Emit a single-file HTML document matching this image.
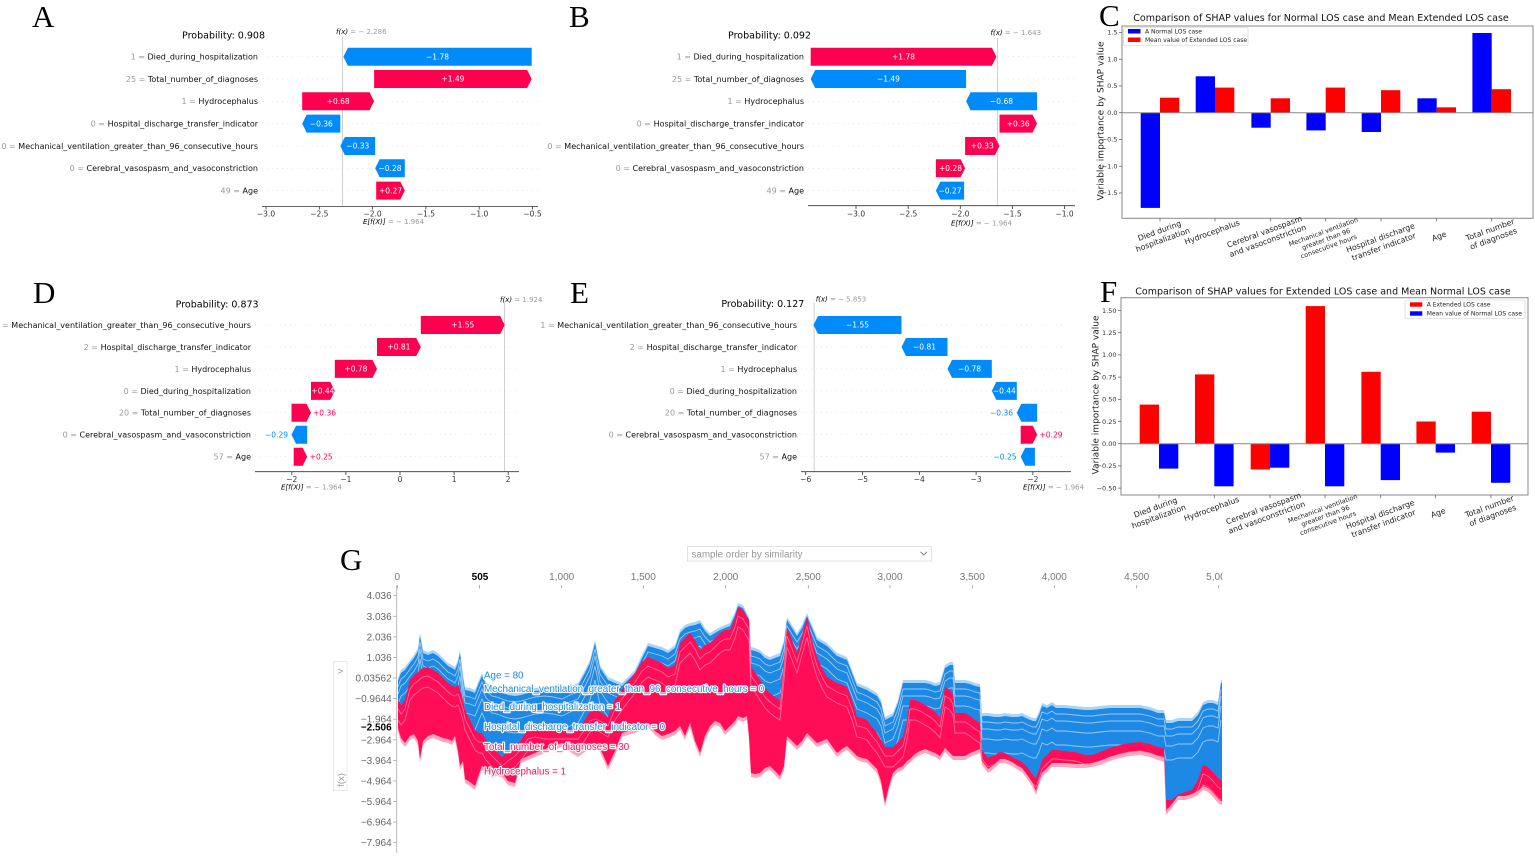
<!DOCTYPE html>
<html><head><meta charset="utf-8">
<style>html,body{margin:0;padding:0;background:#fff;}svg{display:block}</style>
</head><body>
<svg width="1535" height="860" viewBox="0 0 1535 860" xmlns="http://www.w3.org/2000/svg" xmlns:xlink="http://www.w3.org/1999/xlink">
<rect width="1535" height="860" fill="#fff"/>

<!-- panel letters -->
<g font-family="Liberation Serif, serif" font-size="31" fill="#000">
<text x="32" y="27">A</text>
<text x="569" y="27">B</text>
<text x="1099" y="26">C</text>
<text x="33" y="303">D</text>
<text x="570" y="303">E</text>
<text x="1100" y="302">F</text>
<text x="340" y="570">G</text>
</g>

<g font-family="DejaVu Sans, sans-serif">
<!-- ================= PANEL A ================= -->
<text x="265" y="38.5" font-size="9.5" text-anchor="end">Probability: 0.908</text>
<g stroke="#d8d8d8" stroke-width="0.5" stroke-dasharray="1 4">
<line x1="262" y1="56.7" x2="538" y2="56.7"/><line x1="262" y1="79" x2="538" y2="79"/><line x1="262" y1="101.3" x2="538" y2="101.3"/><line x1="262" y1="123.6" x2="538" y2="123.6"/><line x1="262" y1="146" x2="538" y2="146"/><line x1="262" y1="168.3" x2="538" y2="168.3"/><line x1="262" y1="190.6" x2="538" y2="190.6"/>
</g>
<line x1="342.5" y1="37" x2="342.5" y2="205.7" stroke="#bbb" stroke-width="0.7"/>
<g font-size="8" text-anchor="end" fill="#111">
<text x="258" y="59.6"><tspan fill="#999">1 = </tspan>Died_during_hospitalization</text>
<text x="258" y="81.9"><tspan fill="#999">25 = </tspan>Total_number_of_diagnoses</text>
<text x="258" y="104.2"><tspan fill="#999">1 = </tspan>Hydrocephalus</text>
<text x="258" y="126.5"><tspan fill="#999">0 = </tspan>Hospital_discharge_transfer_indicator</text>
<text x="258" y="148.9"><tspan fill="#999">0 = </tspan>Mechanical_ventilation_greater_than_96_consecutive_hours</text>
<text x="258" y="171.2"><tspan fill="#999">0 = </tspan>Cerebral_vasospasm_and_vasoconstriction</text>
<text x="258" y="193.5"><tspan fill="#999">49 = </tspan>Age</text>
</g>
<polygon fill="#008bfb" points="531.7,47.7 347.9,47.7 343.4,56.7 347.9,65.7 531.7,65.7"/>
<polygon fill="#ff0051" points="374.1,70 527.2,70 531.7,79 527.2,88 374.1,88"/>
<polygon fill="#ff0051" points="302.2,92.3 369.6,92.3 374.1,101.3 369.6,110.3 302.2,110.3"/>
<polygon fill="#008bfb" points="340.3,114.6 306.7,114.6 302.2,123.6 306.7,132.6 340.3,132.6"/>
<polygon fill="#008bfb" points="375.2,137 344.8,137 340.3,146 344.8,155 375.2,155"/>
<polygon fill="#008bfb" points="404.8,159.3 379.7,159.3 375.2,168.3 379.7,177.3 404.8,177.3"/>
<polygon fill="#ff0051" points="376.2,181.6 400.3,181.6 404.8,190.6 400.3,199.6 376.2,199.6"/>
<g font-size="7.5" fill="#fff" text-anchor="middle">
<text x="437.5" y="59.4">−1.78</text><text x="452.9" y="81.7">+1.49</text><text x="338.2" y="104">+0.68</text><text x="321.3" y="126.3">−0.36</text><text x="357.8" y="148.7">−0.33</text><text x="390" y="171">−0.28</text><text x="390.5" y="193.3">+0.27</text>
</g>
<line x1="262" y1="206.5" x2="538" y2="206.5" stroke="#333" stroke-width="0.8"/>
<g stroke="#333" stroke-width="0.8"><line x1="266" y1="206.5" x2="266" y2="209.5"/><line x1="319.3" y1="206.5" x2="319.3" y2="209.5"/><line x1="372.6" y1="206.5" x2="372.6" y2="209.5"/><line x1="425.9" y1="206.5" x2="425.9" y2="209.5"/><line x1="479.2" y1="206.5" x2="479.2" y2="209.5"/><line x1="532.5" y1="206.5" x2="532.5" y2="209.5"/></g>
<g font-size="7.5" text-anchor="middle" fill="#333"><text x="266" y="216.5">−3.0</text><text x="319.3" y="216.5">−2.5</text><text x="372.6" y="216.5">−2.0</text><text x="425.9" y="216.5">−1.5</text><text x="479.2" y="216.5">−1.0</text><text x="532.5" y="216.5">−0.5</text></g>
<text x="336" y="34" font-size="7"><tspan font-style="italic">f(x)</tspan><tspan fill="#999"> = − 2.286</tspan></text>
<text x="363" y="224" font-size="7"><tspan font-style="italic">E[f(X)]</tspan><tspan fill="#999"> = − 1.964</tspan></text>

<!-- ================= PANEL B ================= -->
<text x="811" y="38.5" font-size="9.5" text-anchor="end">Probability: 0.092</text>
<g stroke="#d8d8d8" stroke-width="0.5" stroke-dasharray="1 4">
<line x1="808" y1="56.7" x2="1075" y2="56.7"/><line x1="808" y1="79" x2="1075" y2="79"/><line x1="808" y1="101.3" x2="1075" y2="101.3"/><line x1="808" y1="123.6" x2="1075" y2="123.6"/><line x1="808" y1="146" x2="1075" y2="146"/><line x1="808" y1="168.3" x2="1075" y2="168.3"/><line x1="808" y1="190.6" x2="1075" y2="190.6"/>
</g>
<line x1="997.5" y1="38" x2="997.5" y2="205.7" stroke="#bbb" stroke-width="0.7"/>
<g font-size="8" text-anchor="end" fill="#111">
<text x="804" y="59.6"><tspan fill="#999">1 = </tspan>Died_during_hospitalization</text>
<text x="804" y="81.9"><tspan fill="#999">25 = </tspan>Total_number_of_diagnoses</text>
<text x="804" y="104.2"><tspan fill="#999">1 = </tspan>Hydrocephalus</text>
<text x="804" y="126.5"><tspan fill="#999">0 = </tspan>Hospital_discharge_transfer_indicator</text>
<text x="804" y="148.9"><tspan fill="#999">0 = </tspan>Mechanical_ventilation_greater_than_96_consecutive_hours</text>
<text x="804" y="171.2"><tspan fill="#999">0 = </tspan>Cerebral_vasospasm_and_vasoconstriction</text>
<text x="804" y="193.5"><tspan fill="#999">49 = </tspan>Age</text>
</g>
<polygon fill="#ff0051" points="810.7,47.7 991.9,47.7 996.4,56.7 991.9,65.7 810.7,65.7"/>
<polygon fill="#008bfb" points="966.1,70 815.2,70 810.7,79 815.2,88 966.1,88"/>
<polygon fill="#008bfb" points="1037,92.3 970.6,92.3 966.1,101.3 970.6,110.3 1037,110.3"/>
<polygon fill="#ff0051" points="999.5,114.6 1032.5,114.6 1037,123.6 1032.5,132.6 999.5,132.6"/>
<polygon fill="#ff0051" points="965.1,137 995,137 999.5,146 995,155 965.1,155"/>
<polygon fill="#ff0051" points="935.9,159.3 960.6,159.3 965.1,168.3 960.6,177.3 935.9,177.3"/>
<polygon fill="#008bfb" points="964.1,181.6 940.4,181.6 935.9,190.6 940.4,199.6 964.1,199.6"/>
<g font-size="7.5" fill="#fff" text-anchor="middle">
<text x="903.5" y="59.4">+1.78</text><text x="888.4" y="81.7">−1.49</text><text x="1001.5" y="104">−0.68</text><text x="1018.2" y="126.3">+0.36</text><text x="982.3" y="148.7">+0.33</text><text x="950.5" y="171">+0.28</text><text x="950" y="193.3">−0.27</text>
</g>
<line x1="808" y1="205.7" x2="1075" y2="205.7" stroke="#333" stroke-width="0.8"/>
<g stroke="#333" stroke-width="0.8"><line x1="856" y1="205.7" x2="856" y2="209"/><line x1="908.2" y1="205.7" x2="908.2" y2="209"/><line x1="960.3" y1="205.7" x2="960.3" y2="209"/><line x1="1012.5" y1="205.7" x2="1012.5" y2="209"/><line x1="1064.6" y1="205.7" x2="1064.6" y2="209"/></g>
<g font-size="7.5" text-anchor="middle" fill="#333"><text x="856" y="216.5">−3.0</text><text x="908.2" y="216.5">−2.5</text><text x="960.3" y="216.5">−2.0</text><text x="1012.5" y="216.5">−1.5</text><text x="1064.6" y="216.5">−1.0</text></g>
<text x="990.5" y="35" font-size="7"><tspan font-style="italic">f(x)</tspan><tspan fill="#999"> = − 1.643</tspan></text>
<text x="951" y="225.5" font-size="7"><tspan font-style="italic">E[f(X)]</tspan><tspan fill="#999"> = − 1.964</tspan></text>

<!-- ================= PANEL D ================= -->
<text x="258.6" y="307.5" font-size="9.5" text-anchor="end">Probability: 0.873</text>
<g stroke="#d8d8d8" stroke-width="0.5" stroke-dasharray="1 4">
<line x1="255" y1="325" x2="519" y2="325"/><line x1="255" y1="347" x2="519" y2="347"/><line x1="255" y1="368.9" x2="519" y2="368.9"/><line x1="255" y1="390.9" x2="519" y2="390.9"/><line x1="255" y1="412.8" x2="519" y2="412.8"/><line x1="255" y1="434.8" x2="519" y2="434.8"/><line x1="255" y1="456.7" x2="519" y2="456.7"/>
</g>
<line x1="504.5" y1="303" x2="504.5" y2="471.7" stroke="#bbb" stroke-width="0.7"/>
<g font-size="8" text-anchor="end" fill="#111">
<text x="251" y="327.9"><tspan fill="#999">1 = </tspan>Mechanical_ventilation_greater_than_96_consecutive_hours</text>
<text x="251" y="349.9"><tspan fill="#999">2 = </tspan>Hospital_discharge_transfer_indicator</text>
<text x="251" y="371.8"><tspan fill="#999">1 = </tspan>Hydrocephalus</text>
<text x="251" y="393.8"><tspan fill="#999">0 = </tspan>Died_during_hospitalization</text>
<text x="251" y="415.7"><tspan fill="#999">20 = </tspan>Total_number_of_diagnoses</text>
<text x="251" y="437.7"><tspan fill="#999">0 = </tspan>Cerebral_vasospasm_and_vasoconstriction</text>
<text x="251" y="459.6"><tspan fill="#999">57 = </tspan>Age</text>
</g>
<polygon fill="#ff0051" points="420.8,316 500.2,316 504.7,325 500.2,334 420.8,334"/>
<polygon fill="#ff0051" points="377,338 416.3,338 420.8,347 416.3,356 377,356"/>
<polygon fill="#ff0051" points="334.8,359.9 372.5,359.9 377,368.9 372.5,377.9 334.8,377.9"/>
<polygon fill="#ff0051" points="311,381.9 330.3,381.9 334.8,390.9 330.3,399.9 311,399.9"/>
<polygon fill="#ff0051" points="291.5,403.8 306.5,403.8 311,412.8 306.5,421.8 291.5,421.8"/>
<polygon fill="#008bfb" points="307.2,425.8 296,425.8 291.5,434.8 296,443.8 307.2,443.8"/>
<polygon fill="#ff0051" points="293.7,447.7 302.7,447.7 307.2,456.7 302.7,465.7 293.7,465.7"/>
<g font-size="7.5" fill="#fff" text-anchor="middle">
<text x="462.8" y="327.7">+1.55</text><text x="398.9" y="349.7">+0.81</text><text x="355.9" y="371.6">+0.78</text><text x="322.9" y="393.6">+0.44</text>
</g>
<text x="313" y="415.5" font-size="7.5" fill="#ff0051">+0.36</text>
<text x="288" y="437.5" font-size="7.5" fill="#008bfb" text-anchor="end">−0.29</text>
<text x="309.7" y="459.4" font-size="7.5" fill="#ff0051">+0.25</text>
<line x1="255" y1="471.7" x2="519" y2="471.7" stroke="#333" stroke-width="0.8"/>
<g stroke="#333" stroke-width="0.8"><line x1="291.8" y1="471.7" x2="291.8" y2="475"/><line x1="345.9" y1="471.7" x2="345.9" y2="475"/><line x1="400" y1="471.7" x2="400" y2="475"/><line x1="454.1" y1="471.7" x2="454.1" y2="475"/><line x1="508.2" y1="471.7" x2="508.2" y2="475"/></g>
<g font-size="7.5" text-anchor="middle" fill="#333"><text x="291.8" y="482">−2</text><text x="345.9" y="482">−1</text><text x="400" y="482">0</text><text x="454.1" y="482">1</text><text x="508.2" y="482">2</text></g>
<text x="500" y="302" font-size="7"><tspan font-style="italic">f(x)</tspan><tspan fill="#999"> = 1.924</tspan></text>
<text x="281" y="489.5" font-size="7"><tspan font-style="italic">E[f(X)]</tspan><tspan fill="#999"> = − 1.964</tspan></text>

<!-- ================= PANEL E ================= -->
<text x="804.3" y="306.8" font-size="9.5" text-anchor="end">Probability: 0.127</text>
<g stroke="#d8d8d8" stroke-width="0.5" stroke-dasharray="1 4">
<line x1="801" y1="325" x2="1071" y2="325"/><line x1="801" y1="347" x2="1071" y2="347"/><line x1="801" y1="368.9" x2="1071" y2="368.9"/><line x1="801" y1="390.9" x2="1071" y2="390.9"/><line x1="801" y1="412.8" x2="1071" y2="412.8"/><line x1="801" y1="434.8" x2="1071" y2="434.8"/><line x1="801" y1="456.7" x2="1071" y2="456.7"/>
</g>
<line x1="814.1" y1="303" x2="814.1" y2="471.7" stroke="#bbb" stroke-width="0.7"/>
<g font-size="8" text-anchor="end" fill="#111">
<text x="797" y="327.9"><tspan fill="#999">1 = </tspan>Mechanical_ventilation_greater_than_96_consecutive_hours</text>
<text x="797" y="349.9"><tspan fill="#999">2 = </tspan>Hospital_discharge_transfer_indicator</text>
<text x="797" y="371.8"><tspan fill="#999">1 = </tspan>Hydrocephalus</text>
<text x="797" y="393.8"><tspan fill="#999">0 = </tspan>Died_during_hospitalization</text>
<text x="797" y="415.7"><tspan fill="#999">20 = </tspan>Total_number_of_diagnoses</text>
<text x="797" y="437.7"><tspan fill="#999">0 = </tspan>Cerebral_vasospasm_and_vasoconstriction</text>
<text x="797" y="459.6"><tspan fill="#999">57 = </tspan>Age</text>
</g>
<polygon fill="#008bfb" points="901.5,316 818,316 813.5,325 818,334 901.5,334"/>
<polygon fill="#008bfb" points="947.5,338 906,338 901.5,347 906,356 947.5,356"/>
<polygon fill="#008bfb" points="991.8,359.9 952,359.9 947.5,368.9 952,377.9 991.8,377.9"/>
<polygon fill="#008bfb" points="1016.8,381.9 996.3,381.9 991.8,390.9 996.3,399.9 1016.8,399.9"/>
<polygon fill="#008bfb" points="1037.2,403.8 1021.3,403.8 1016.8,412.8 1021.3,421.8 1037.2,421.8"/>
<polygon fill="#ff0051" points="1020.7,425.8 1032.7,425.8 1037.2,434.8 1032.7,443.8 1020.7,443.8"/>
<polygon fill="#008bfb" points="1034.9,447.7 1025.2,447.7 1020.7,456.7 1025.2,465.7 1034.9,465.7"/>
<g font-size="7.5" fill="#fff" text-anchor="middle">
<text x="857.5" y="327.7">−1.55</text><text x="924.5" y="349.7">−0.81</text><text x="969.6" y="371.6">−0.78</text><text x="1004.3" y="393.6">−0.44</text>
</g>
<text x="1013" y="415.5" font-size="7.5" fill="#008bfb" text-anchor="end">−0.36</text>
<text x="1039.5" y="437.5" font-size="7.5" fill="#ff0051">+0.29</text>
<text x="1016.5" y="459.4" font-size="7.5" fill="#008bfb" text-anchor="end">−0.25</text>
<line x1="801" y1="471.7" x2="1071" y2="471.7" stroke="#333" stroke-width="0.8"/>
<g stroke="#333" stroke-width="0.8"><line x1="805.7" y1="471.7" x2="805.7" y2="475"/><line x1="862.5" y1="471.7" x2="862.5" y2="475"/><line x1="919.3" y1="471.7" x2="919.3" y2="475"/><line x1="976.1" y1="471.7" x2="976.1" y2="475"/><line x1="1032.9" y1="471.7" x2="1032.9" y2="475"/></g>
<g font-size="7.5" text-anchor="middle" fill="#333"><text x="805.7" y="482">−6</text><text x="862.5" y="482">−5</text><text x="919.3" y="482">−4</text><text x="976.1" y="482">−3</text><text x="1032.9" y="482">−2</text></g>
<text x="815.7" y="301.5" font-size="7"><tspan font-style="italic">f(x)</tspan><tspan fill="#999"> = − 5.853</tspan></text>
<text x="1023" y="489.5" font-size="7"><tspan font-style="italic">E[f(X)]</tspan><tspan fill="#999"> = − 1.964</tspan></text>

<!-- ================= PANEL C ================= -->
<text x="1321" y="21" font-size="9.5" text-anchor="middle" fill="#111">Comparison of SHAP values for Normal LOS case and Mean Extended LOS case</text>
<g fill="#0000ff">
<rect x="1140.7" y="112.7" width="19.3" height="95.2"/>
<rect x="1195.7" y="76.3" width="19.3" height="36.4"/>
<rect x="1251.4" y="112.7" width="19.3" height="15"/>
<rect x="1306.4" y="112.7" width="19.3" height="17.7"/>
<rect x="1361.7" y="112.7" width="19.3" height="19.3"/>
<rect x="1417.4" y="98.3" width="19.3" height="14.4"/>
<rect x="1472.4" y="33" width="19.3" height="79.7"/>
</g>
<g fill="#ff0000">
<rect x="1160" y="97.7" width="19.3" height="15"/>
<rect x="1215" y="87.6" width="19.3" height="25.1"/>
<rect x="1270.7" y="98.3" width="19.3" height="14.4"/>
<rect x="1325.7" y="87.6" width="19.3" height="25.1"/>
<rect x="1381" y="90.2" width="19.3" height="22.5"/>
<rect x="1436.7" y="107.35" width="19.3" height="5.35"/>
<rect x="1491.7" y="89.2" width="19.3" height="23.5"/>
</g>
<line x1="1122" y1="112.7" x2="1533" y2="112.7" stroke="#888" stroke-width="1"/>
<rect x="1122" y="26" width="411" height="192.3" fill="none" stroke="#888" stroke-width="1"/>
<g stroke="#555" stroke-width="0.7">
<line x1="1119" y1="32.45" x2="1122" y2="32.45"/><line x1="1119" y1="59.2" x2="1122" y2="59.2"/><line x1="1119" y1="85.95" x2="1122" y2="85.95"/><line x1="1119" y1="112.7" x2="1122" y2="112.7"/><line x1="1119" y1="139.45" x2="1122" y2="139.45"/><line x1="1119" y1="166.2" x2="1122" y2="166.2"/><line x1="1119" y1="192.95" x2="1122" y2="192.95"/>
<line x1="1160" y1="218.3" x2="1160" y2="221.5"/><line x1="1215" y1="218.3" x2="1215" y2="221.5"/><line x1="1270.7" y1="218.3" x2="1270.7" y2="221.5"/><line x1="1325.7" y1="218.3" x2="1325.7" y2="221.5"/><line x1="1381" y1="218.3" x2="1381" y2="221.5"/><line x1="1436.7" y1="218.3" x2="1436.7" y2="221.5"/><line x1="1491.7" y1="218.3" x2="1491.7" y2="221.5"/>
</g>
<g font-size="6.5" text-anchor="end" fill="#333">
<text x="1117.5" y="34.7">1.5</text><text x="1117.5" y="61.5">1.0</text><text x="1117.5" y="88.2">0.5</text><text x="1117.5" y="115">0.0</text><text x="1117.5" y="141.7">−0.5</text><text x="1117.5" y="168.5">−1.0</text><text x="1117.5" y="195.2">−1.5</text>
</g>
<rect x="1123.5" y="27.5" width="124.5" height="18" fill="#fff" fill-opacity="0.85" stroke="#ccc" stroke-width="0.6" rx="1.5"/>
<rect x="1128" y="29" width="12.5" height="4.5" fill="#0000ff"/>
<rect x="1128" y="37.5" width="12.5" height="4.5" fill="#ff0000"/>
<text x="1145" y="33.3" font-size="6" fill="#222">A Normal LOS case</text>
<text x="1145" y="41.8" font-size="6" fill="#222">Mean value of Extended LOS case</text>
<text transform="translate(1103.3,121) rotate(-90)" font-size="9" text-anchor="middle" fill="#222">Variable importance by SHAP value</text>
<g font-size="7.8" text-anchor="middle" fill="#222">
<g transform="translate(1161,235) rotate(-20)"><text y="-1.9">Died during</text><text y="7.7">hospitalization</text></g>
<g transform="translate(1212,232) rotate(-20)"><text y="2.8">Hydrocephalus</text></g>
<g transform="translate(1266,236) rotate(-20)"><text y="-1.9">Cerebral vasospasm</text><text y="7.7">and vasoconstriction</text></g>
<g transform="translate(1326,239) rotate(-20)" font-size="6.5"><text y="-5.45">Mechanical ventilation</text><text y="2.35">greater than 96</text><text y="10.15">consecutive hours</text></g>
<g transform="translate(1382,242) rotate(-20)"><text y="-1.9">Hospital discharge</text><text y="7.7">transfer indicator</text></g>
<g transform="translate(1439,236) rotate(-20)"><text y="2.8">Age</text></g>
<g transform="translate(1491.7,234) rotate(-20)"><text y="-1.9">Total number</text><text y="7.7">of diagnoses</text></g>
</g>

<!-- ================= PANEL F ================= -->
<text x="1323" y="294.5" font-size="9.5" text-anchor="middle" fill="#111">Comparison of SHAP values for Extended LOS case and Mean Normal LOS case</text>
<g fill="#ff0000">
<rect x="1139.7" y="404.6" width="19.3" height="39.1"/>
<rect x="1195" y="374.4" width="19.3" height="69.3"/>
<rect x="1250.7" y="443.7" width="19.3" height="25.8"/>
<rect x="1305.7" y="306.1" width="19.3" height="137.6"/>
<rect x="1361.4" y="371.8" width="19.3" height="71.9"/>
<rect x="1416.4" y="421.5" width="19.3" height="22.2"/>
<rect x="1471.7" y="411.7" width="19.3" height="32"/>
</g>
<g fill="#0000ff">
<rect x="1159" y="443.7" width="19.3" height="24.9"/>
<rect x="1214.3" y="443.7" width="19.3" height="42.6"/>
<rect x="1270" y="443.7" width="19.3" height="24"/>
<rect x="1325" y="443.7" width="19.3" height="42.6"/>
<rect x="1380.7" y="443.7" width="19.3" height="36.4"/>
<rect x="1435.7" y="443.7" width="19.3" height="8.9"/>
<rect x="1491" y="443.7" width="19.3" height="39.1"/>
</g>
<line x1="1121" y1="443.7" x2="1528" y2="443.7" stroke="#888" stroke-width="1"/>
<rect x="1121" y="297.7" width="407" height="197.3" fill="none" stroke="#888" stroke-width="1"/>
<g stroke="#555" stroke-width="0.7">
<line x1="1118" y1="310.5" x2="1121" y2="310.5"/><line x1="1118" y1="332.7" x2="1121" y2="332.7"/><line x1="1118" y1="354.9" x2="1121" y2="354.9"/><line x1="1118" y1="377.1" x2="1121" y2="377.1"/><line x1="1118" y1="399.3" x2="1121" y2="399.3"/><line x1="1118" y1="421.5" x2="1121" y2="421.5"/><line x1="1118" y1="443.7" x2="1121" y2="443.7"/><line x1="1118" y1="465.9" x2="1121" y2="465.9"/><line x1="1118" y1="488.1" x2="1121" y2="488.1"/>
<line x1="1159" y1="495" x2="1159" y2="498.2"/><line x1="1214.3" y1="495" x2="1214.3" y2="498.2"/><line x1="1270" y1="495" x2="1270" y2="498.2"/><line x1="1325" y1="495" x2="1325" y2="498.2"/><line x1="1380.7" y1="495" x2="1380.7" y2="498.2"/><line x1="1435.7" y1="495" x2="1435.7" y2="498.2"/><line x1="1491" y1="495" x2="1491" y2="498.2"/>
</g>
<g font-size="6.5" text-anchor="end" fill="#333">
<text x="1116.5" y="312.8">1.50</text><text x="1116.5" y="335">1.25</text><text x="1116.5" y="357.2">1.00</text><text x="1116.5" y="379.4">0.75</text><text x="1116.5" y="401.6">0.50</text><text x="1116.5" y="423.8">0.25</text><text x="1116.5" y="446">0.00</text><text x="1116.5" y="468.2">−0.25</text><text x="1116.5" y="490.4">−0.50</text>
</g>
<rect x="1405" y="300" width="120" height="18.5" fill="#fff" fill-opacity="0.85" stroke="#ccc" stroke-width="0.6" rx="1.5"/>
<rect x="1410" y="302.3" width="12.3" height="4.4" fill="#ff0000"/>
<rect x="1410" y="311.3" width="12.3" height="4.4" fill="#0000ff"/>
<text x="1426.7" y="306.5" font-size="6" fill="#222">A Extended LOS case</text>
<text x="1426.7" y="315.5" font-size="6" fill="#222">Mean value of Normal LOS case</text>
<text transform="translate(1098.3,395) rotate(-90)" font-size="9" text-anchor="middle" fill="#222">Variable importance by SHAP value</text>
<g font-size="7.8" text-anchor="middle" fill="#222">
<g transform="translate(1157,511.7) rotate(-20)"><text y="-1.9">Died during</text><text y="7.7">hospitalization</text></g>
<g transform="translate(1211.5,508.7) rotate(-20)"><text y="2.8">Hydrocephalus</text></g>
<g transform="translate(1265,512.7) rotate(-20)"><text y="-1.9">Cerebral vasospasm</text><text y="7.7">and vasoconstriction</text></g>
<g transform="translate(1325.3,515.7) rotate(-20)" font-size="6.5"><text y="-5.45">Mechanical ventilation</text><text y="2.35">greater than 96</text><text y="10.15">consecutive hours</text></g>
<g transform="translate(1381.7,518.7) rotate(-20)"><text y="-1.9">Hospital discharge</text><text y="7.7">transfer indicator</text></g>
<g transform="translate(1438,512.7) rotate(-20)"><text y="2.8">Age</text></g>
<g transform="translate(1491,510.7) rotate(-20)"><text y="-1.9">Total number</text><text y="7.7">of diagnoses</text></g>
</g>
</g>

<!-- ================= PANEL G ================= -->
<defs>
<polygon id="gt" points="398,678 401,670 405,667 410,660 414,655 418,648 420,633 423,650 428,652 433,650 438,653 443,658 448,663 452,665 455,667 458,660 460,650 463,675 465,687 470,688 475,690 479,680 482,673 486,682 492,687 497,688 502,690 508,692 515,693 521,692 528,690 535,688 545,687 553,688 562,690 570,686 578,683 585,670 590,660 595,640 600,665 608,677 615,680 622,683 628,677 635,670 642,655 648,643 655,645 662,647 668,650 675,645 680,630 685,625 690,623 695,622 700,620 705,628 710,633 715,630 720,627 725,625 730,623 735,612 738,603 743,605 747,613 749,616 751,647 755,648 760,650 765,655 770,657 775,655 780,653 784,640 787,617 792,625 797,633 802,625 807,613 812,625 817,637 822,640 827,643 832,648 837,653 842,655 847,657 852,670 857,683 862,685 867,687 872,690 877,693 881,700 885,717 889,715 893,713 898,700 903,680 907,680 910,680 915,680 920,680 925,680 930,681 935,683 940,682 945,665 950,662 953,662 955,680 960,680 965,680 970,681 975,683 980,684 982,713 988,713 995,714 1000,714 1005,713 1012,714 1018,714 1022,713 1028,716 1033,718 1036,718 1039,712 1042,703 1047,705 1052,702 1056,705 1065,705 1075,706 1085,707 1092,707 1100,706 1110,705 1120,705 1130,705 1140,705 1150,707 1158,710 1164,710 1166,720 1172,720 1178,718 1185,718 1192,718 1198,712 1203,702 1208,700 1213,700 1218,702 1221,680 1222,680 1222,860 398,860"/>
<polyline id="gtl" points="398,678 401,670 405,667 410,660 414,655 418,648 420,633 423,650 428,652 433,650 438,653 443,658 448,663 452,665 455,667 458,660 460,650 463,675 465,687 470,688 475,690 479,680 482,673 486,682 492,687 497,688 502,690 508,692 515,693 521,692 528,690 535,688 545,687 553,688 562,690 570,686 578,683 585,670 590,660 595,640 600,665 608,677 615,680 622,683 628,677 635,670 642,655 648,643 655,645 662,647 668,650 675,645 680,630 685,625 690,623 695,622 700,620 705,628 710,633 715,630 720,627 725,625 730,623 735,612 738,603 743,605 747,613 749,616 751,647 755,648 760,650 765,655 770,657 775,655 780,653 784,640 787,617 792,625 797,633 802,625 807,613 812,625 817,637 822,640 827,643 832,648 837,653 842,655 847,657 852,670 857,683 862,685 867,687 872,690 877,693 881,700 885,717 889,715 893,713 898,700 903,680 907,680 910,680 915,680 920,680 925,680 930,681 935,683 940,682 945,665 950,662 953,662 955,680 960,680 965,680 970,681 975,683 980,684 982,713 988,713 995,714 1000,714 1005,713 1012,714 1018,714 1022,713 1028,716 1033,718 1036,718 1039,712 1042,703 1047,705 1052,702 1056,705 1065,705 1075,706 1085,707 1092,707 1100,706 1110,705 1120,705 1130,705 1140,705 1150,707 1158,710 1164,710 1166,720 1172,720 1178,718 1185,718 1192,718 1198,712 1203,702 1208,700 1213,700 1218,702 1221,680"/>
<polygon id="gm" points="398,700 401,705 405,700 410,680 414,675 418,672 420,670 423,668 428,667 433,670 438,673 443,678 448,683 452,686 455,687 458,685 460,690 463,700 465,710 470,720 475,730 479,733 482,733 486,740 492,747 497,752 502,757 508,752 515,747 521,740 528,730 535,728 545,730 553,730 562,730 570,730 578,730 585,720 590,712 595,710 600,712 608,717 615,700 622,690 628,682 635,673 642,662 648,657 655,660 662,663 668,668 675,665 680,643 685,638 690,633 695,640 700,650 705,645 710,643 715,638 720,633 725,630 730,630 735,618 738,607 743,610 747,617 749,620 751,667 755,672 760,680 765,688 770,693 775,697 780,700 784,660 787,627 792,640 797,653 802,635 807,617 812,640 817,657 822,668 827,677 832,680 837,683 842,685 847,687 852,700 857,717 862,718 867,720 872,727 877,733 881,740 885,747 889,747 893,747 898,742 903,737 907,720 910,700 915,700 920,702 925,705 930,708 935,712 940,718 945,687 950,690 953,695 955,713 960,713 965,713 970,716 975,720 980,723 982,750 988,758 995,755 1000,752 1005,753 1012,757 1018,760 1022,762 1028,768 1033,775 1036,778 1039,770 1042,760 1047,755 1052,750 1056,750 1065,751 1075,752 1085,755 1092,755 1100,752 1110,748 1120,745 1130,743 1140,742 1150,744 1158,747 1164,748 1166,800 1172,800 1178,795 1185,792 1192,790 1198,780 1203,765 1208,767 1213,772 1218,778 1221,780 1222,780 1222,860 398,860"/>
<polyline id="gml" points="398,700 401,705 405,700 410,680 414,675 418,672 420,670 423,668 428,667 433,670 438,673 443,678 448,683 452,686 455,687 458,685 460,690 463,700 465,710 470,720 475,730 479,733 482,733 486,740 492,747 497,752 502,757 508,752 515,747 521,740 528,730 535,728 545,730 553,730 562,730 570,730 578,730 585,720 590,712 595,710 600,712 608,717 615,700 622,690 628,682 635,673 642,662 648,657 655,660 662,663 668,668 675,665 680,643 685,638 690,633 695,640 700,650 705,645 710,643 715,638 720,633 725,630 730,630 735,618 738,607 743,610 747,617 749,620 751,667 755,672 760,680 765,688 770,693 775,697 780,700 784,660 787,627 792,640 797,653 802,635 807,617 812,640 817,657 822,668 827,677 832,680 837,683 842,685 847,687 852,700 857,717 862,718 867,720 872,727 877,733 881,740 885,747 889,747 893,747 898,742 903,737 907,720 910,700 915,700 920,702 925,705 930,708 935,712 940,718 945,687 950,690 953,695 955,713 960,713 965,713 970,716 975,720 980,723 982,750 988,758 995,755 1000,752 1005,753 1012,757 1018,760 1022,762 1028,768 1033,775 1036,778 1039,770 1042,760 1047,755 1052,750 1056,750 1065,751 1075,752 1085,755 1092,755 1100,752 1110,748 1120,745 1130,743 1140,742 1150,744 1158,747 1164,748 1166,800 1172,800 1178,795 1185,792 1192,790 1198,780 1203,765 1208,767 1213,772 1218,778 1221,780"/>
<polygon id="gb" points="398,732 401,742 405,747 410,740 414,738 418,745 420,763 423,745 428,740 433,738 438,740 443,742 448,743 452,745 455,740 458,755 460,770 463,765 465,783 470,786 475,790 479,778 482,770 486,772 492,777 497,776 502,777 508,785 515,787 521,763 528,760 535,757 545,753 553,750 562,747 570,752 578,757 585,752 590,748 595,747 600,752 608,770 615,755 622,737 628,735 635,733 642,730 648,727 655,735 662,740 668,738 675,735 680,730 685,740 690,727 695,745 700,757 705,740 710,730 715,725 720,727 725,735 730,730 735,725 738,720 743,722 747,720 749,740 751,777 755,778 760,777 765,772 770,770 775,775 780,780 784,770 787,740 792,745 797,750 802,745 807,737 812,742 817,747 822,745 827,743 832,750 837,757 842,753 847,750 852,755 857,760 862,762 867,763 872,768 877,773 881,785 885,807 889,790 893,777 898,772 903,770 907,765 910,763 915,758 920,755 925,753 930,755 935,757 940,760 945,752 950,757 953,760 955,760 960,760 965,760 970,757 975,755 980,753 982,765 988,773 995,768 1000,763 1005,763 1012,766 1018,770 1022,772 1028,780 1033,788 1036,795 1039,785 1042,777 1047,772 1052,767 1056,767 1065,767 1075,768 1085,768 1092,767 1100,765 1110,761 1120,758 1130,756 1140,755 1150,757 1158,760 1164,762 1166,815 1172,808 1178,800 1185,800 1192,798 1198,795 1203,790 1208,792 1213,797 1218,803 1221,805 1222,805 1222,860 398,860"/>
<clipPath id="gclip"><rect x="300" y="560" width="922.5" height="300"/></clipPath>
</defs>

<g>
<use xlink:href="#gt" href="#gt" fill="#a9d5f8"/>
<use xlink:href="#gt" href="#gt" fill="#1e88e5" transform="translate(0,3)"/>
<g fill="none" stroke="#ffffff" stroke-opacity="0.55" stroke-width="0.9">
<use xlink:href="#gtl" href="#gtl" transform="translate(0,9)"/>
<use xlink:href="#gtl" href="#gtl" transform="translate(0,16)"/>
<use xlink:href="#gtl" href="#gtl" transform="translate(0,26)"/>
<use xlink:href="#gtl" href="#gtl" transform="translate(0,40)"/>
</g>
<use xlink:href="#gm" href="#gm" fill="#ff0d57"/>
<g fill="none" stroke="#ff8fb0" stroke-opacity="0.7" stroke-width="0.9">
<use xlink:href="#gml" href="#gml" transform="translate(0,9)"/>
<use xlink:href="#gml" href="#gml" transform="translate(0,20)"/>
</g>
<use xlink:href="#gb" href="#gb" fill="#ffa6bf" transform="translate(0,-4)"/>
<use xlink:href="#gb" href="#gb" fill="#ffffff"/>
</g>

<g font-family="Liberation Sans, Arial, sans-serif">
<!-- dropdown -->
<rect x="687.5" y="546.5" width="244" height="14.5" fill="#fff" stroke="#ddd" stroke-width="0.8"/>
<text x="691.5" y="557.3" font-size="9.8" fill="#999">sample order by similarity</text>
<polyline points="920.5,551.8 923.8,555 927,551.8" fill="none" stroke="#777" stroke-width="0.9"/>

<!-- top axis -->
<g clip-path="url(#gclip)" font-size="10" fill="#777" text-anchor="middle">
<text x="397.3" y="580">0</text>
<text x="480" y="580" font-weight="bold" fill="#000">505</text>
<text x="561.7" y="580">1,000</text>
<text x="643.3" y="580">1,500</text>
<text x="725.7" y="580">2,000</text>
<text x="808.3" y="580">2,500</text>
<text x="890" y="580">3,000</text>
<text x="972.3" y="580">3,500</text>
<text x="1054.3" y="580">4,000</text>
<text x="1136.7" y="580">4,500</text>
<text x="1218.7" y="580">5,000</text>
<g stroke="#999" stroke-width="0.8">
<line x1="397.3" y1="585" x2="397.3" y2="588.5"/><line x1="479.5" y1="585" x2="479.5" y2="588.5"/><line x1="561.7" y1="585" x2="561.7" y2="588.5"/><line x1="643.3" y1="585" x2="643.3" y2="588.5"/><line x1="725.7" y1="585" x2="725.7" y2="588.5"/><line x1="808.3" y1="585" x2="808.3" y2="588.5"/><line x1="890" y1="585" x2="890" y2="588.5"/><line x1="972.3" y1="585" x2="972.3" y2="588.5"/><line x1="1054.3" y1="585" x2="1054.3" y2="588.5"/><line x1="1136.7" y1="585" x2="1136.7" y2="588.5"/><line x1="1218.7" y1="585" x2="1218.7" y2="588.5"/>
</g>
</g>

<!-- y axis -->
<line x1="396.7" y1="585" x2="396.7" y2="853" stroke="#aaa" stroke-width="0.8"/>
<g stroke="#aaa" stroke-width="0.8">
<line x1="393" y1="595.7" x2="396.7" y2="595.7"/><line x1="393" y1="616.3" x2="396.7" y2="616.3"/><line x1="393" y1="636.9" x2="396.7" y2="636.9"/><line x1="393" y1="657.4" x2="396.7" y2="657.4"/><line x1="393" y1="678" x2="396.7" y2="678"/><line x1="393" y1="698.6" x2="396.7" y2="698.6"/><line x1="393" y1="719.2" x2="396.7" y2="719.2"/><line x1="393" y1="739.8" x2="396.7" y2="739.8"/><line x1="393" y1="760.4" x2="396.7" y2="760.4"/><line x1="393" y1="781" x2="396.7" y2="781"/><line x1="393" y1="801.5" x2="396.7" y2="801.5"/><line x1="393" y1="822.1" x2="396.7" y2="822.1"/><line x1="393" y1="842.7" x2="396.7" y2="842.7"/>
</g>
<g font-size="10" fill="#666" text-anchor="end">
<text x="391.7" y="599.2">4.036</text>
<text x="391.7" y="619.8">3.036</text>
<text x="391.7" y="640.4">2.036</text>
<text x="391.7" y="660.9">1.036</text>
<text x="391.7" y="681.5">0.03562</text>
<text x="391.7" y="702.1">−0.9644</text>
<text x="391.7" y="722.7">−1.964</text>
<rect x="356" y="722.3" width="36.5" height="11" fill="#fff"/>
<text x="391.7" y="730.5" font-weight="bold" fill="#000">−2.506</text>
<text x="391.7" y="743.3">−2.964</text>
<text x="391.7" y="763.9">−3.964</text>
<text x="391.7" y="784.5">−4.964</text>
<text x="391.7" y="805">−5.964</text>
<text x="391.7" y="825.6">−6.964</text>
<text x="391.7" y="846.2">−7.964</text>
</g>

<!-- collapsed side panel -->
<rect x="333.5" y="661.5" width="13.5" height="129" fill="#fff" stroke="#e3e3e3" stroke-width="0.8"/>
<text x="340.3" y="674.5" font-size="10" fill="#999" text-anchor="middle">&gt;</text>
<text transform="translate(343.8,780) rotate(-90)" font-size="9.5" fill="#999" text-anchor="middle">f(x)</text>

<!-- feature labels in force plot -->
<g font-size="9.8" stroke="#fff" stroke-width="2.2" stroke-linejoin="round" paint-order="stroke">
<text x="484" y="678.5" fill="#1e88e5">Age = 80</text>
<text x="484" y="691.8" fill="#1e88e5">Mechanical_ventilation_greater_than_96_consecutive_hours = 0</text>
<text x="484" y="710.2" fill="#1e88e5">Died_during_hospitalization = 1</text>
<text x="484" y="730.2" fill="#1e88e5">Hospital_discharge_transfer_indicator = 0</text>
<text x="484" y="750.2" fill="#ff0d57">Total_number_of_diagnoses = 30</text>
<text x="484" y="774.5" fill="#ff0d57">Hydrocephalus = 1</text>
</g>
</g>
</svg>
</body></html>
